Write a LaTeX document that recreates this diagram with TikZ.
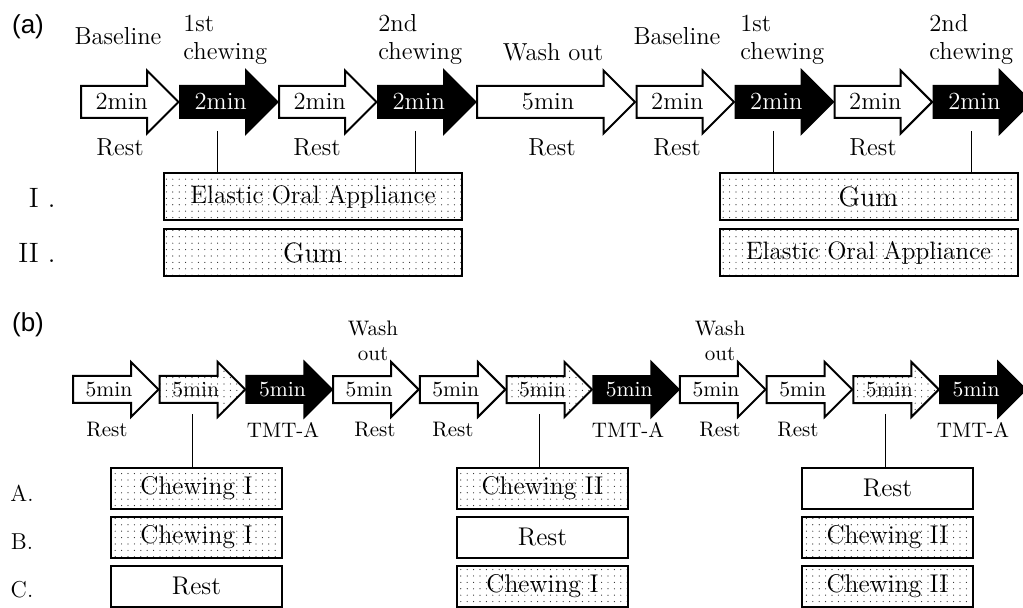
\documentclass[tikz,border=0pt]{standalone}
\usepackage{fontspec}
\newfontfamily\panelfont{Liberation Sans}
\usetikzlibrary{chains, positioning, shapes.arrows, patterns.meta}

\begin{document}
\begin{tikzpicture}[x=0.5pt,y=-0.5pt,
  arr/.style={single arrow, draw, line width=1pt, outer sep=0pt, on chain, single arrow tip angle=90},
  bigarr/.style={arr, single arrow head extend=7.75pt, minimum height=48.75pt,
    text height=8pt, text depth=0pt, inner ysep=3.5pt, font=\fontsize{12.3}{14}\selectfont},
  smallarr/.style={arr, single arrow head extend=7pt, minimum height=42.75pt,
    text height=7pt, text depth=0pt, inner ysep=2.75pt, font=\fontsize{10.8}{13}\selectfont},
  rest/.style={fill=white},
  chew/.style={fill=black, text=white},
  dots/.style={pattern={Dots[distance=3.2pt, radius=0.3pt]}, pattern color=black!85},
  lbl/.style={inner sep=0pt, font=\fontsize{12.3}{14}\selectfont},
  slbl/.style={inner sep=0pt, font=\fontsize{10.5}{12.5}\selectfont},
  panel/.style={inner sep=0pt, font=\panelfont\fontsize{13}{15}\selectfont},
  grp/.style={draw, line width=1pt, inner sep=0pt, minimum width=149pt, minimum height=23.5pt},
  sgrp/.style={draw, line width=1pt, inner sep=0pt, minimum width=85.5pt, minimum height=20.5pt,
    font=\fontsize{12.8}{15}\selectfont},
  conn/.style={line width=0.6pt}
]
\useasboundingbox (0,0) rectangle (1023,608);
\clip (0,0) rectangle (1023,608);

% (a) crossover with chewing
\node[panel] (pa) at (28,27) {(a)};
\begin{scope}[start chain=top going right, node distance=0.75pt]
\node[bigarr, rest, anchor=west] (a1) at (81,102) {2min};
\node[bigarr, chew] (a2) {2min};
\node[bigarr, rest] (a3) {2min};
\node[bigarr, chew] (a4) {2min};
\node[bigarr, rest, minimum height=79pt] (a5) {5min};
\node[bigarr, rest] (a6) {2min};
\node[bigarr, chew] (a7) {2min};
\node[bigarr, rest] (a8) {2min};
\node[bigarr, chew] (a9) {2min};
\end{scope}

\node[lbl] (base1) at (118,36) {Baseline};
\node[lbl, align=left, anchor=south west] (ch1) at (183,65) {1st\\chewing};
\node[lbl, align=left, anchor=south west] (ch2) at (378,65) {2nd\\chewing};
\node[lbl] (wash) at (553,52) {Wash out};
\node[lbl] (base2) at (677,36) {Baseline};
\node[lbl, align=left, anchor=south west] (ch3) at (740,65) {1st\\chewing};
\node[lbl, align=left, anchor=south west] (ch4) at (929,65) {2nd\\chewing};

\node[lbl] (r1) at (120,147.5) {Rest};
\node[lbl] (r2) at (317,147.5) {Rest};
\node[lbl] (r3) at (552,147.5) {Rest};
\node[lbl] (r4) at (677,147.5) {Rest};
\node[lbl] (r5) at (873,147.5) {Rest};

\node[inner sep=0pt, font=\fontsize{14}{16}\selectfont, anchor=east] (seqI) at (56,198) {I .};
\node[inner sep=0pt, font=\fontsize{14}{16}\selectfont, anchor=east] (seqII) at (56,253) {II .};

\node[grp, dots, font=\fontsize{12.6}{15}\selectfont] (boxIa) at (313,196.5) {Elastic Oral Appliance};
\node[grp, dots, font=\fontsize{14}{16}\selectfont] (boxIIa) at (313,253) {Gum};
\node[grp, dots, font=\fontsize{14}{16}\selectfont] (boxIb) at (868.5,196.5) {Gum};
\node[grp, dots, font=\fontsize{12.6}{15}\selectfont] (boxIIb) at (868.5,253) {Elastic Oral Appliance};

\draw[conn] ([xshift=-1.5pt, yshift=-6.5pt]a2.south) -- ([xshift=-1.5pt]a2.south |- boxIa.north);
\draw[conn] ([xshift=-1.5pt, yshift=-6.5pt]a4.south) -- ([xshift=-1.5pt]a4.south |- boxIa.north);
\draw[conn] ([xshift=-1.5pt, yshift=-6.5pt]a7.south) -- ([xshift=-1.5pt]a7.south |- boxIb.north);
\draw[conn] ([xshift=-1.5pt, yshift=-6.5pt]a9.south) -- ([xshift=-1.5pt]a9.south |- boxIb.north);

% (b) TMT-A sessions
\node[panel] (pb) at (28,325) {(b)};
\begin{scope}[start chain=low going right, node distance=0.6pt]
\node[smallarr, rest, anchor=west] (b1) at (73,389.5) {5min};
\node[smallarr, dots] (b2) {5min};
\node[smallarr, chew] (b3) {5min};
\node[smallarr, rest] (b4) {5min};
\node[smallarr, rest] (b5) {5min};
\node[smallarr, dots] (b6) {5min};
\node[smallarr, chew] (b7) {5min};
\node[smallarr, rest] (b8) {5min};
\node[smallarr, rest] (b9) {5min};
\node[smallarr, dots] (b10) {5min};
\node[smallarr, chew] (b11) {5min};
\end{scope}

\node[slbl, align=center, anchor=south] (wash1) at (373,361) {Wash\\out};
\node[slbl, align=center, anchor=south] (wash2) at (720,361) {Wash\\out};

\node[slbl] (s1) at (107,430) {Rest};
\node[slbl] (t1) at (283,430) {TMT-A};
\node[slbl] (s2) at (375,430) {Rest};
\node[slbl] (s3) at (453,430) {Rest};
\node[slbl] (t2) at (628,430) {TMT-A};
\node[slbl] (s4) at (720,430) {Rest};
\node[slbl] (s5) at (798,430) {Rest};
\node[slbl] (t3) at (973,430) {TMT-A};

\node[slbl, font=\fontsize{11.5}{13}\selectfont] (rowA) at (22,493) {A.};
\node[slbl, font=\fontsize{11.5}{13}\selectfont] (rowB) at (22,542) {B.};
\node[slbl, font=\fontsize{11.5}{13}\selectfont] (rowC) at (22,590) {C.};

\node[sgrp, dots] (boxA1) at (196.5,488.5) {Chewing I};
\node[sgrp, dots] (boxB1) at (196.5,537.5) {Chewing I};
\node[sgrp] (boxC1) at (196.5,586.5) {Rest};
\node[sgrp, dots] (boxA2) at (542.5,488.5) {Chewing II};
\node[sgrp] (boxB2) at (542.5,537.5) {Rest};
\node[sgrp, dots] (boxC2) at (542.5,586.5) {Chewing I};
\node[sgrp] (boxA3) at (887.5,488.5) {Rest};
\node[sgrp, dots] (boxB3) at (887.5,537.5) {Chewing II};
\node[sgrp, dots] (boxC3) at (887.5,586.5) {Chewing II};

\draw[conn] ([xshift=-1.5pt, yshift=-5.5pt]b2.south) -- ([xshift=-1.5pt]b2.south |- boxA1.north);
\draw[conn] ([xshift=-1.5pt, yshift=-5.5pt]b6.south) -- ([xshift=-1.5pt]b6.south |- boxA2.north);
\draw[conn] ([xshift=-2pt, yshift=-5.5pt]b10.south) -- ([xshift=-2pt]b10.south |- boxA3.north);
\end{tikzpicture}
\end{document}
